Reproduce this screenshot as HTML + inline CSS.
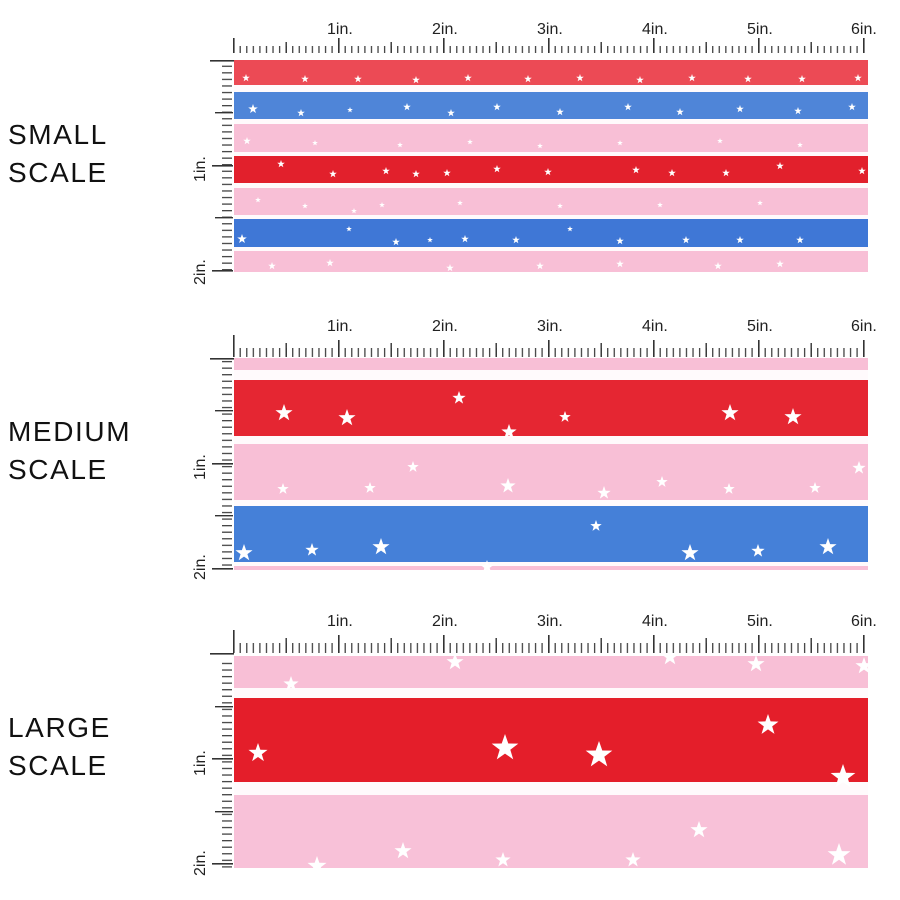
<!DOCTYPE html>
<html><head><meta charset="utf-8"><style>
html,body{margin:0;padding:0;background:#fff;}
svg{display:block;}
.lbl{font-family:"Liberation Sans",sans-serif;font-size:28px;fill:#111;letter-spacing:1.6px;}
.r{font-family:"Liberation Sans",sans-serif;font-size:16px;fill:#222;}
</style></head><body>
<svg width="900" height="900" viewBox="0 0 900 900" xmlns="http://www.w3.org/2000/svg">
<defs>
<pattern id="hm" x="233" y="0" width="6.5625" height="900" patternUnits="userSpaceOnUse">
<rect x="0" y="0" width="1.3" height="900" fill="#444"/></pattern>
<pattern id="vm" x="0" y="0" width="900" height="6.5625" patternUnits="userSpaceOnUse">
<rect x="0" y="0" width="900" height="1.3" fill="#444"/></pattern>
<polygon id="st" points="0,-1 0.235,-0.324 0.951,-0.309 0.38,0.124 0.588,0.809 0,0.4 -0.588,0.809 -0.38,0.124 -0.951,-0.309 -0.235,-0.324" fill="#fff"/>
</defs>

<text class="lbl" x="8" y="144">SMALL</text><text class="lbl" x="8" y="182">SCALE</text>
<text class="lbl" x="8" y="441">MEDIUM</text><text class="lbl" x="8" y="479">SCALE</text>
<text class="lbl" x="8" y="737">LARGE</text><text class="lbl" x="8" y="775">SCALE</text>

<!-- ===== SMALL ===== -->
<g>
<rect x="234" y="60" width="634" height="212" fill="#fffafc"/>
<rect x="234" y="60" width="634" height="25" fill="#ec4a55"/>
<rect x="234" y="92" width="634" height="27" fill="#4f85d8"/>
<rect x="234" y="124" width="634" height="28" fill="#f8bfd6"/>
<rect x="234" y="156" width="634" height="27" fill="#e2202c"/>
<rect x="234" y="188" width="634" height="27" fill="#f8bfd6"/>
<rect x="234" y="219" width="634" height="28" fill="#3f77d6"/>
<rect x="234" y="251" width="634" height="21" fill="#f8bfd6"/>
<g>
<use href="#st" transform="translate(246,78) scale(4)"/><use href="#st" transform="translate(305,79) scale(4)"/><use href="#st" transform="translate(358,79) scale(4)"/><use href="#st" transform="translate(416,80) scale(4)"/><use href="#st" transform="translate(468,78) scale(4)"/><use href="#st" transform="translate(528,79) scale(4)"/><use href="#st" transform="translate(580,78) scale(4)"/><use href="#st" transform="translate(640,80) scale(4)"/><use href="#st" transform="translate(692,78) scale(4)"/><use href="#st" transform="translate(748,79) scale(4)"/><use href="#st" transform="translate(802,79) scale(4)"/><use href="#st" transform="translate(858,78) scale(4)"/>
<use href="#st" transform="translate(253,109) scale(5)"/><use href="#st" transform="translate(301,113) scale(4)"/><use href="#st" transform="translate(350,110) scale(3)"/><use href="#st" transform="translate(407,107) scale(4)"/><use href="#st" transform="translate(451,113) scale(4)"/><use href="#st" transform="translate(497,107) scale(4)"/><use href="#st" transform="translate(560,112) scale(4)"/><use href="#st" transform="translate(628,107) scale(4)"/><use href="#st" transform="translate(680,112) scale(4)"/><use href="#st" transform="translate(740,109) scale(4)"/><use href="#st" transform="translate(798,111) scale(4)"/><use href="#st" transform="translate(852,107) scale(4)"/>
<use href="#st" transform="translate(247,141) scale(4)"/><use href="#st" transform="translate(315,143) scale(3)"/><use href="#st" transform="translate(400,145) scale(3)"/><use href="#st" transform="translate(470,142) scale(3)"/><use href="#st" transform="translate(540,146) scale(3)"/><use href="#st" transform="translate(620,143) scale(3)"/><use href="#st" transform="translate(720,141) scale(3)"/><use href="#st" transform="translate(800,145) scale(3)"/>
<use href="#st" transform="translate(281,164) scale(4)"/><use href="#st" transform="translate(333,174) scale(4)"/><use href="#st" transform="translate(386,171) scale(4)"/><use href="#st" transform="translate(416,174) scale(4)"/><use href="#st" transform="translate(447,173) scale(4)"/><use href="#st" transform="translate(497,169) scale(4)"/><use href="#st" transform="translate(548,172) scale(4)"/><use href="#st" transform="translate(636,170) scale(4)"/><use href="#st" transform="translate(672,173) scale(4)"/><use href="#st" transform="translate(726,173) scale(4)"/><use href="#st" transform="translate(780,166) scale(4)"/><use href="#st" transform="translate(862,171) scale(4)"/>
<use href="#st" transform="translate(258,200) scale(3)"/><use href="#st" transform="translate(305,206) scale(3)"/><use href="#st" transform="translate(354,211) scale(3)"/><use href="#st" transform="translate(382,205) scale(3)"/><use href="#st" transform="translate(460,203) scale(3)"/><use href="#st" transform="translate(560,206) scale(3)"/><use href="#st" transform="translate(660,205) scale(3)"/><use href="#st" transform="translate(760,203) scale(3)"/>
<use href="#st" transform="translate(349,229) scale(3)"/><use href="#st" transform="translate(242,239) scale(5)"/><use href="#st" transform="translate(396,242) scale(4)"/><use href="#st" transform="translate(430,240) scale(3)"/><use href="#st" transform="translate(465,239) scale(4)"/><use href="#st" transform="translate(516,240) scale(4)"/><use href="#st" transform="translate(570,229) scale(3)"/><use href="#st" transform="translate(620,241) scale(4)"/><use href="#st" transform="translate(686,240) scale(4)"/><use href="#st" transform="translate(740,240) scale(4)"/><use href="#st" transform="translate(800,240) scale(4)"/>
<use href="#st" transform="translate(272,266) scale(4)"/><use href="#st" transform="translate(330,263) scale(4)"/><use href="#st" transform="translate(450,268) scale(4)"/><use href="#st" transform="translate(540,266) scale(4)"/><use href="#st" transform="translate(620,264) scale(4)"/><use href="#st" transform="translate(718,266) scale(4)"/><use href="#st" transform="translate(780,264) scale(4)"/>
</g>
</g>

<!-- ===== MEDIUM ===== -->
<g>
<rect x="234" y="358" width="634" height="212" fill="#fffafc"/>
<rect x="234" y="358" width="634" height="12" fill="#f8bfd6"/>
<rect x="234" y="380" width="634" height="56" fill="#e52632"/>
<rect x="234" y="444" width="634" height="56" fill="#f8bfd6"/>
<rect x="234" y="506" width="634" height="56" fill="#4580d8"/>
<rect x="234" y="566" width="634" height="4" fill="#f8bfd6"/>
<use href="#st" transform="translate(284,413) scale(9)"/><use href="#st" transform="translate(347,418) scale(9)"/><use href="#st" transform="translate(459,398) scale(7)"/><use href="#st" transform="translate(509,432) scale(8)"/><use href="#st" transform="translate(565,417) scale(6)"/><use href="#st" transform="translate(730,413) scale(9)"/><use href="#st" transform="translate(793,417) scale(9)"/>
<use href="#st" transform="translate(413,467) scale(6)"/><use href="#st" transform="translate(508,486) scale(8)"/><use href="#st" transform="translate(604,493) scale(7)"/><use href="#st" transform="translate(283,489) scale(6)"/><use href="#st" transform="translate(370,488) scale(6)"/><use href="#st" transform="translate(662,482) scale(6)"/><use href="#st" transform="translate(729,489) scale(6)"/><use href="#st" transform="translate(815,488) scale(6)"/><use href="#st" transform="translate(859,468) scale(7)"/>
<use href="#st" transform="translate(244,553) scale(9)"/><use href="#st" transform="translate(312,550) scale(7)"/><use href="#st" transform="translate(381,547) scale(9)"/><use href="#st" transform="translate(596,526) scale(6)"/><use href="#st" transform="translate(690,553) scale(9)"/><use href="#st" transform="translate(758,551) scale(7)"/><use href="#st" transform="translate(828,547) scale(9)"/><use href="#st" transform="translate(487,567) scale(7)"/>
</g>

<!-- ===== LARGE ===== -->
<g>
<rect x="234" y="656" width="634" height="212" fill="#fffafc"/>
<rect x="234" y="656" width="634" height="32" fill="#f8bfd6"/>
<rect x="234" y="698" width="634" height="84" fill="#e41e2a"/>
<rect x="234" y="795" width="634" height="73" fill="#f8c1d8"/>
<use href="#st" transform="translate(291,684) scale(8)"/><use href="#st" transform="translate(455,662) scale(9)"/><use href="#st" transform="translate(670,657) scale(9)"/><use href="#st" transform="translate(756,664) scale(9)"/><use href="#st" transform="translate(864,666) scale(9)"/>
<use href="#st" transform="translate(258,753) scale(10)"/><use href="#st" transform="translate(505,748) scale(14)"/><use href="#st" transform="translate(599,755) scale(14)"/><use href="#st" transform="translate(768,725) scale(11)"/><use href="#st" transform="translate(843,777) scale(13)"/>
<use href="#st" transform="translate(403,851) scale(9)"/><use href="#st" transform="translate(699,830) scale(9)"/><use href="#st" transform="translate(839,855) scale(12)"/><use href="#st" transform="translate(317,866) scale(10)"/><use href="#st" transform="translate(503,860) scale(8)"/><use href="#st" transform="translate(633,860) scale(8)"/>
</g>

<!-- ===== RULERS ===== -->
<g id="rulers">
<rect x="233" y="46" width="632" height="7" fill="url(#hm)"/>
<g fill="#333">
<rect x="233" y="38" width="1.6" height="15"/><rect x="338" y="38" width="1.6" height="15"/><rect x="443" y="38" width="1.6" height="15"/><rect x="548" y="38" width="1.6" height="15"/><rect x="653" y="38" width="1.6" height="15"/><rect x="758" y="38" width="1.6" height="15"/><rect x="863" y="38" width="1.6" height="15"/>
<rect x="285.5" y="42" width="1.4" height="11"/><rect x="390.5" y="42" width="1.4" height="11"/><rect x="495.5" y="42" width="1.4" height="11"/><rect x="600.5" y="42" width="1.4" height="11"/><rect x="705.5" y="42" width="1.4" height="11"/><rect x="810.5" y="42" width="1.4" height="11"/>
</g>
<text class="r" x="327" y="34">1in.</text><text class="r" x="432" y="34">2in.</text><text class="r" x="537" y="34">3in.</text><text class="r" x="642" y="34">4in.</text><text class="r" x="747" y="34">5in.</text><text class="r" x="851" y="34">6in.</text>
<rect x="222" y="60" width="10" height="212" fill="url(#vm)"/>
<g fill="#333"><rect x="210" y="60" width="24" height="1.6"/><rect x="215" y="112" width="18" height="1.4"/><rect x="212" y="165" width="21" height="1.6"/><rect x="215" y="217" width="18" height="1.4"/><rect x="212" y="270" width="21" height="1.6"/></g>
<text class="r" transform="translate(205,182) rotate(-90)">1in.</text>
<text class="r" transform="translate(205,285) rotate(-90)">2in.</text>

<rect x="233" y="348" width="632" height="9" fill="url(#hm)"/>
<g fill="#333">
<rect x="233" y="335" width="1.6" height="22"/><rect x="338" y="340" width="1.6" height="17"/><rect x="443" y="340" width="1.6" height="17"/><rect x="548" y="340" width="1.6" height="17"/><rect x="653" y="340" width="1.6" height="17"/><rect x="758" y="340" width="1.6" height="17"/><rect x="863" y="340" width="1.6" height="17"/>
<rect x="285.5" y="343" width="1.4" height="14"/><rect x="390.5" y="343" width="1.4" height="14"/><rect x="495.5" y="343" width="1.4" height="14"/><rect x="600.5" y="343" width="1.4" height="14"/><rect x="705.5" y="343" width="1.4" height="14"/><rect x="810.5" y="343" width="1.4" height="14"/>
</g>
<text class="r" x="327" y="331">1in.</text><text class="r" x="432" y="331">2in.</text><text class="r" x="537" y="331">3in.</text><text class="r" x="642" y="331">4in.</text><text class="r" x="747" y="331">5in.</text><text class="r" x="851" y="331">6in.</text>
<rect x="222" y="360" width="10" height="210" fill="url(#vm)"/>
<g fill="#333"><rect x="210" y="358" width="24" height="1.6"/><rect x="215" y="410" width="18" height="1.4"/><rect x="212" y="463" width="21" height="1.6"/><rect x="215" y="515" width="18" height="1.4"/><rect x="212" y="568" width="21" height="1.6"/></g>
<text class="r" transform="translate(205,480) rotate(-90)">1in.</text>
<text class="r" transform="translate(205,580) rotate(-90)">2in.</text>

<rect x="233" y="643" width="632" height="10" fill="url(#hm)"/>
<g fill="#333">
<rect x="233" y="630" width="1.6" height="23"/><rect x="338" y="635" width="1.6" height="18"/><rect x="443" y="635" width="1.6" height="18"/><rect x="548" y="635" width="1.6" height="18"/><rect x="653" y="635" width="1.6" height="18"/><rect x="758" y="635" width="1.6" height="18"/><rect x="863" y="635" width="1.6" height="18"/>
<rect x="285.5" y="638" width="1.4" height="15"/><rect x="390.5" y="638" width="1.4" height="15"/><rect x="495.5" y="638" width="1.4" height="15"/><rect x="600.5" y="638" width="1.4" height="15"/><rect x="705.5" y="638" width="1.4" height="15"/><rect x="810.5" y="638" width="1.4" height="15"/>
</g>
<text class="r" x="327" y="626">1in.</text><text class="r" x="432" y="626">2in.</text><text class="r" x="537" y="626">3in.</text><text class="r" x="642" y="626">4in.</text><text class="r" x="747" y="626">5in.</text><text class="r" x="851" y="626">6in.</text>
<rect x="222" y="658" width="10" height="210" fill="url(#vm)"/>
<g fill="#333"><rect x="210" y="653" width="24" height="1.6"/><rect x="215" y="706" width="18" height="1.4"/><rect x="212" y="758" width="21" height="1.6"/><rect x="215" y="811" width="18" height="1.4"/><rect x="212" y="863" width="21" height="1.6"/></g>
<text class="r" transform="translate(205,776) rotate(-90)">1in.</text>
<text class="r" transform="translate(205,876) rotate(-90)">2in.</text>
</g>
</svg>
</body></html>
